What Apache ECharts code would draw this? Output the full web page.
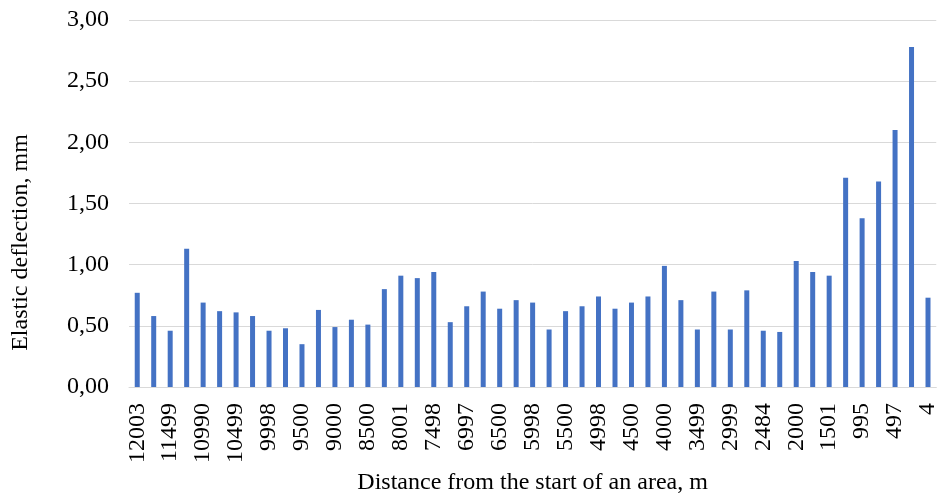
<!DOCTYPE html>
<html>
<head>
<meta charset="utf-8">
<script src="https://cdn.jsdelivr.net/npm/echarts@6/dist/echarts.min.js"></script>
<style>html,body{margin:0;padding:0;background:#fff;}#c{width:940px;height:501px;}</style>
</head>
<body>
<div id="c"></div>
<script>
const categories = ['12003','11751','11499','11250','10990','10745','10499','10250','9998','9750',
  '9500','9250','9000','8750','8500','8250','8001','7750','7498','7250',
  '6997','6750','6500','6250','5998','5750','5500','5250','4998','4750',
  '4500','4250','4000','3750','3499','3250','2999','2750','2484','2250',
  '2000','1750','1501','1250','995','750','497','250','4'];
const deflection = [0.77,0.58,0.46,1.13,0.69,0.62,0.61,0.58,0.46,0.48,
  0.35,0.63,0.49,0.55,0.51,0.80,0.91,0.89,0.94,0.53,
  0.66,0.78,0.64,0.71,0.69,0.47,0.62,0.66,0.74,0.64,
  0.69,0.74,0.99,0.71,0.47,0.78,0.47,0.79,0.46,0.45,
  1.03,0.94,0.91,1.71,1.38,1.68,2.10,2.78,0.73];
const yTicks = [0, 0.5, 1, 1.5, 2, 2.5, 3];

const font = 'Liberation Serif';
const chart = echarts.init(document.getElementById('c'));
chart.setOption({
  animation: false,
  grid: {left: 129, right: 3, top: 20, bottom: 114},
  xAxis: {
    type: 'category',
    data: categories,
    name: 'Distance from the start of an area, m',
    nameLocation: 'middle',
    nameGap: 84,
    nameTextStyle: {fontFamily: font, fontSize: 24, color: '#000'},
    axisTick: {show: false},
    axisLine: {lineStyle: {color: '#d9d9d9', width: 1}},
    axisLabel: {interval: 1, rotate: 90, margin: 16, fontFamily: font, fontSize: 24, color: '#000'}
  },
  yAxis: {
    type: 'value',
    min: yTicks[0], max: yTicks[yTicks.length-1], interval: 0.5,
    name: 'Elastic deflection, mm',
    nameLocation: 'middle',
    nameGap: 96,
    nameTextStyle: {fontFamily: font, fontSize: 24, color: '#000', padding: [0, 78, 0, 0]},
    axisLine: {show: false},
    axisTick: {show: false},
    splitLine: {lineStyle: {color: '#d9d9d9', width: 1}},
    axisLabel: {margin: 20, fontFamily: font, fontSize: 24, color: '#000',
      formatter: v => v.toFixed(2).replace('.', ',')}
  },
  series: [{
    type: 'bar',
    data: deflection,
    barWidth: 5,
    itemStyle: {color: '#4472C4'}
  }]
});
</script>
</body>
</html>
